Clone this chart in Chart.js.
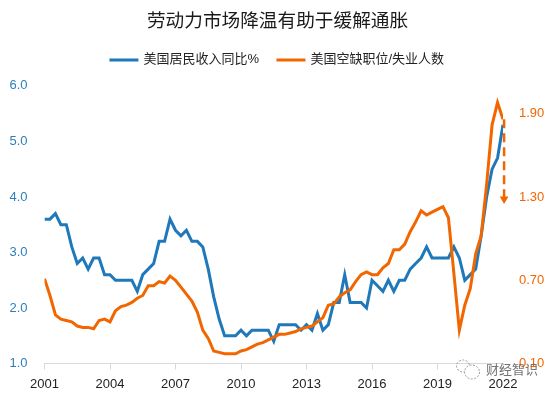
<!DOCTYPE html>
<html lang="zh">
<head>
  <meta charset="UTF-8">
  <title>劳动力市场降温有助于缓解通胀</title>
  <script src="https://cdn.jsdelivr.net/npm/chart.js"></script>
  <style>
    * { margin: 0; padding: 0; box-sizing: border-box; }
    body { background: #fff; }
    #chart-container { width: 555px; height: 395px; }
  </style>
</head>
<body>
  <div id="chart-container">
    <canvas id="chart"></canvas>
  </div>

  <script>
    // Quarterly readings, 2001Q1 to 2022Q1
    const startYear = 2001;
    const incomeGrowth = [
      3.6, 3.6, 3.7, 3.5, 3.5, 3.1, 2.8, 2.9, 2.7, 2.9, 2.9, 2.6,
      2.6, 2.5, 2.5, 2.5, 2.5, 2.3, 2.6, 2.7, 2.8, 3.2, 3.2, 3.6,
      3.4, 3.3, 3.4, 3.2, 3.2, 3.1, 2.7, 2.2, 1.8, 1.5, 1.5, 1.5,
      1.6, 1.5, 1.6, 1.6, 1.6, 1.6, 1.4, 1.7, 1.7, 1.7, 1.7, 1.6,
      1.7, 1.6, 1.9, 1.6, 1.7, 2.1, 2.1, 2.6, 2.1, 2.1, 2.1, 2.0,
      2.5, 2.4, 2.3, 2.5, 2.3, 2.5, 2.5, 2.7, 2.8, 2.9, 3.1, 2.9,
      2.9, 2.9, 2.9, 3.1, 2.9, 2.5, 2.6, 2.7, 3.3, 4.0, 4.5, 4.7,
      5.3
    ];
    const vacancyRatio = [
      0.71, 0.59, 0.45, 0.42, 0.41, 0.40, 0.37, 0.36, 0.36, 0.35, 0.41, 0.42,
      0.40, 0.48, 0.51, 0.52, 0.54, 0.57, 0.59, 0.66, 0.66, 0.69, 0.68, 0.73,
      0.70, 0.65, 0.60, 0.55, 0.47, 0.34, 0.28, 0.19, 0.18, 0.17, 0.17, 0.17,
      0.19, 0.20, 0.22, 0.24, 0.25, 0.27, 0.29, 0.31, 0.31, 0.32, 0.33, 0.35,
      0.36, 0.37, 0.40, 0.43, 0.52, 0.53, 0.58, 0.61, 0.63, 0.69, 0.74, 0.76,
      0.74, 0.74, 0.79, 0.82, 0.92, 0.92, 0.96, 1.05, 1.12, 1.20, 1.17, 1.19,
      1.21, 1.23, 1.15, 0.75, 0.34, 0.52, 0.64, 0.89, 1.02, 1.39, 1.82, 1.98,
      1.86
    ];
    const arrowX = [2022.05, 2022.05];
    const arrowY = [1.86, 1.285];
    const xTicks = [2001, 2004, 2007, 2010, 2013, 2016, 2019, 2022];
    const leftTicks = [1, 2, 3, 4, 5, 6];
    const rightTicks = [0.1, 0.7, 1.3, 1.9];

    const blue = '#1F78B9';
    const orange = '#F26600';
    const fontFamily = '"Liberation Sans", "Noto Sans CJK SC", sans-serif';

    function toPoints(values) {
      return values.map((v, i) => ({ x: startYear + i / 4, y: v }));
    }
    function setTicks(values) {
      return scale => { scale.ticks = values.map(v => ({ value: v })); };
    }

    // Extra room between the legend and the plot
    const legendGap = {
      id: 'legendGap',
      beforeInit(chart) {
        const fit = chart.legend.fit;
        chart.legend.fit = function () {
          fit.call(this);
          this.height += 9.5;
        };
      }
    };

    // Faint account watermark in the bottom right corner
    const watermark = {
      id: 'watermark',
      afterDraw(chart) {
        const ctx = chart.ctx;
        ctx.save();
        ctx.strokeStyle = '#9a9a9a';
        ctx.lineWidth = 1;
        ctx.setLineDash([2, 1.5]);
        ctx.beginPath();
        ctx.ellipse(463, 366, 6.5, 6, 0, 0, Math.PI * 2);
        ctx.stroke();
        ctx.fillStyle = '#fff';
        ctx.beginPath();
        ctx.ellipse(472, 372, 7.5, 7, 0, 0, Math.PI * 2);
        ctx.fill();
        ctx.stroke();
        ctx.setLineDash([]);
        ctx.font = '13px "Noto Sans CJK SC"';
        ctx.textBaseline = 'middle';
        ctx.fillStyle = 'rgba(90, 90, 90, 0.85)';
        ctx.fillText('财经智识', 486, 369);
        ctx.restore();
      }
    };

    new Chart(document.getElementById('chart').getContext('2d'), {
      type: 'line',
      data: {
        datasets: [
          {
            label: '美国居民收入同比%',
            data: toPoints(incomeGrowth),
            yAxisID: 'y',
            borderColor: blue,
            backgroundColor: blue,
            borderWidth: 3,
            pointRadius: 0,
            order: 2
          },
          {
            label: '美国空缺职位/失业人数',
            data: toPoints(vacancyRatio),
            yAxisID: 'y1',
            borderColor: orange,
            backgroundColor: orange,
            borderWidth: 3,
            pointRadius: 0,
            order: 1
          },
          {
            label: 'arrow',
            data: arrowX.map((x, i) => ({ x: x, y: arrowY[i] })),
            yAxisID: 'y1',
            borderColor: orange,
            backgroundColor: orange,
            borderWidth: 2.5,
            borderDash: [9, 5],
            clip: false,
            pointStyle: 'triangle',
            pointRadius: [0, 5],
            pointRotation: 180,
            pointBorderWidth: 0,
            order: 0
          }
        ]
      },
      options: {
        responsive: true,
        maintainAspectRatio: false,
        animation: false,
        plugins: {
          title: {
            display: true,
            text: '劳动力市场降温有助于缓解通胀',
            color: '#1a1a1a',
            font: { family: fontFamily, size: 18.67, weight: 'normal', lineHeight: 1.2 },
            padding: { top: 11, bottom: 1 }
          },
          legend: {
            display: true,
            labels: {
              color: '#222',
              boxWidth: 26,
              boxHeight: 0.01,
              padding: 19,
              font: { family: fontFamily, size: 13 },
              filter: item => item.text !== 'arrow',
              sort: (a, b) => a.datasetIndex - b.datasetIndex
            }
          },
          tooltip: { enabled: false }
        },
        scales: {
          x: {
            type: 'linear',
            min: 2001,
            max: 2022,
            afterBuildTicks: setTicks(xTicks),
            afterFit: scale => { scale.height = 31.5; },
            border: { color: '#D9D9D9' },
            grid: { drawOnChartArea: false, color: '#D9D9D9', tickLength: 6 },
            ticks: {
              color: '#222',
              padding: 7,
              maxRotation: 0,
              autoSkip: false,
              font: { family: fontFamily, size: 13 },
              callback: v => String(v)
            }
          },
          y: {
            position: 'left',
            min: 1,
            max: 6,
            afterBuildTicks: setTicks(leftTicks),
            afterFit: scale => { scale.width = 44.5; },
            border: { display: false },
            grid: { display: false, tickLength: 0 },
            ticks: {
              color: '#2E7FBA',
              padding: 17,
              font: { family: fontFamily, size: 13 },
              callback: v => v.toFixed(1)
            }
          },
          y1: {
            position: 'right',
            min: 0.1,
            max: 2.1,
            afterBuildTicks: setTicks(rightTicks),
            afterFit: scale => { scale.width = 52; },
            border: { display: false },
            grid: { display: false, tickLength: 0 },
            ticks: {
              color: orange,
              padding: 16,
              font: { family: fontFamily, size: 13 },
              callback: v => v.toFixed(2)
            }
          }
        }
      },
      plugins: [legendGap, watermark]
    });
  </script>
</body>
</html>
